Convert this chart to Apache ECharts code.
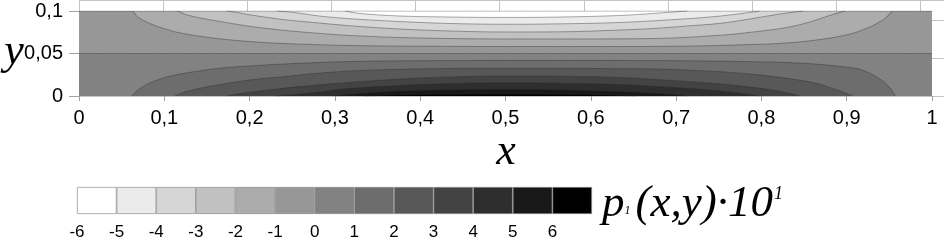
<!DOCTYPE html>
<html><head><meta charset="utf-8">
<script src="https://cdn.jsdelivr.net/npm/echarts@6/dist/echarts.min.js"></script>
<style>html,body{margin:0;padding:0;background:#fff}#c{width:944px;height:241px}</style>
</head><body><div id="c"></div>
<script>
// ---- data ----
const levels = [-6,-5,-4,-3,-2,-1,0,1,2,3,4,5,6];
const bandColors = ['#ffffff','#ebebeb','#d6d6d6','#c1c1c1','#acacac','#979797','#828282','#6d6d6d','#585858','#434343','#2e2e2e','#191919','#000000'];
const xDomain = [0, 1];
const yDomain = [0, 0.1];
const zeroLevelY = 0.05;

// contour lines, lower half (positive levels 1..6): [x, y]
const contourP1 = [[0.062,0],[0.069,0.0071],[0.083,0.0153],[0.103,0.0224],[0.122,0.0265],[0.162,0.0324],[0.200,0.0353],[0.239,0.0376],[0.318,0.0406],[0.400,0.0415],[0.499,0.0418],[0.611,0.0418],[0.705,0.0415],[0.775,0.0406],[0.830,0.0394],[0.869,0.0371],[0.898,0.0341],[0.918,0.0306],[0.937,0.0212],[0.950,0.0106],[0.957,0]];
const contourP2 = [[0.1125,0],[0.124,0.0047],[0.142,0.0091],[0.162,0.0129],[0.200,0.0188],[0.239,0.0227],[0.279,0.0267],[0.318,0.0294],[0.376,0.0314],[0.435,0.0324],[0.499,0.0326],[0.564,0.0326],[0.634,0.0321],[0.673,0.0318],[0.752,0.0286],[0.798,0.0247],[0.830,0.0208],[0.857,0.0165],[0.875,0.0118],[0.892,0.0059],[0.907,0]];
const contourP3 = [[0.1735,0],[0.185,0.0024],[0.200,0.0044],[0.239,0.0091],[0.279,0.0129],[0.318,0.0161],[0.376,0.0200],[0.435,0.0224],[0.499,0.0235],[0.564,0.0232],[0.634,0.0218],[0.713,0.0171],[0.752,0.0141],[0.790,0.0102],[0.816,0.0065],[0.834,0.0029],[0.845,0]];
const contourP4 = [[0.232,0],[0.253,0.0018],[0.279,0.0044],[0.318,0.0091],[0.376,0.0124],[0.435,0.0147],[0.499,0.0156],[0.564,0.0151],[0.634,0.0135],[0.713,0.0091],[0.752,0.0059],[0.781,0.0024],[0.798,0]];
const contourP5 = [[0.300,0],[0.329,0.0029],[0.376,0.0059],[0.435,0.0073],[0.499,0.0079],[0.564,0.0073],[0.634,0.0053],[0.681,0.0029],[0.713,0]];
const contourP6 = [[0.335,0],[0.376,0.0014],[0.435,0.0021],[0.499,0.0024],[0.564,0.0021],[0.617,0.0012],[0.652,0]];

// contour lines, upper half (negative levels -1..-5): [x, y]
const contourN1 = [[0.063,0.1],[0.069,0.0929],[0.083,0.0853],[0.103,0.0782],[0.122,0.0735],[0.162,0.0676],[0.200,0.0641],[0.239,0.0618],[0.318,0.0594],[0.400,0.0586],[0.499,0.0582],[0.611,0.0582],[0.705,0.0586],[0.790,0.0606],[0.830,0.0624],[0.869,0.0665],[0.904,0.0729],[0.927,0.0812],[0.944,0.0906],[0.954,0.1]];
const contourN2 = [[0.115,0.1],[0.127,0.0953],[0.142,0.0918],[0.162,0.0882],[0.200,0.0820],[0.239,0.0774],[0.279,0.0739],[0.318,0.0712],[0.376,0.0688],[0.435,0.0676],[0.499,0.0671],[0.564,0.0671],[0.673,0.0676],[0.752,0.0715],[0.790,0.0753],[0.830,0.0806],[0.857,0.0871],[0.878,0.0941],[0.898,0.1]];
const contourN3 = [[0.1735,0.1],[0.189,0.0976],[0.200,0.0955],[0.239,0.0900],[0.279,0.0861],[0.318,0.0826],[0.376,0.0788],[0.435,0.0765],[0.499,0.0753],[0.564,0.0755],[0.634,0.0776],[0.673,0.0794],[0.713,0.0824],[0.752,0.0855],[0.790,0.0912],[0.822,0.0965],[0.849,0.1]];
const contourN4 = [[0.232,0.1],[0.253,0.0982],[0.279,0.0944],[0.318,0.0909],[0.376,0.0876],[0.435,0.0853],[0.499,0.0844],[0.564,0.0849],[0.634,0.0865],[0.713,0.0909],[0.752,0.0941],[0.781,0.0976],[0.798,0.1]];
const contourN5 = [[0.312,0.1],[0.329,0.0971],[0.376,0.0941],[0.435,0.0929],[0.499,0.0924],[0.564,0.0929],[0.634,0.0947],[0.673,0.0971],[0.713,0.1]];

// ---- build chart ----
const chart = echarts.init(document.getElementById('c'), null, {renderer: 'canvas'});
const SERIF = '"Liberation Serif", "Times New Roman", serif';
const SANS = '"Liberation Sans", Arial, sans-serif';
const contourLine = {color: 'rgba(45,45,45,0.5)', width: 0.8};
const SMOOTH = 0.35;

function fill(data, color) {
  return {
    type: 'line', xAxisIndex: 1, yAxisIndex: 1, data: data,
    smooth: SMOOTH, symbol: 'none', silent: true, clip: true,
    lineStyle: {width: 0, opacity: 0},
    areaStyle: {color: color, opacity: 1, origin: 'start'}
  };
}
function stroke(data) {
  return {
    type: 'line', xAxisIndex: 1, yAxisIndex: 1, data: data,
    smooth: SMOOTH, symbol: 'none', silent: true, clip: true,
    lineStyle: contourLine
  };
}
function topClosed(c) { return [[xDomain[0], yDomain[1]]].concat(c, [[xDomain[1], yDomain[1]]]); }

const series = [];
const topEdge = [[xDomain[0], yDomain[1]], [xDomain[1], yDomain[1]]];
const zeroLine = [[xDomain[0], zeroLevelY], [xDomain[1], zeroLevelY]];
// upper half: paint from most negative band downward
series.push(fill(topEdge, bandColors[0]));
const upper = [contourN5, contourN4, contourN3, contourN2, contourN1];
upper.forEach((c, i) => series.push(fill(topClosed(c), bandColors[i + 1])));
// zero contour / lower half background
series.push(fill(zeroLine, bandColors[6]));
const lower = [contourP1, contourP2, contourP3, contourP4, contourP5, contourP6];
lower.forEach((c, i) => series.push(fill(c, bandColors[7 + i])));
// contour strokes
upper.concat(lower).forEach(c => series.push(stroke(c)));
series.push(stroke(zeroLine));
series.push(stroke(topEdge));

// colour bar
series.push({
  type: 'bar', xAxisIndex: 2, yAxisIndex: 2, silent: true,
  data: levels.map((l, i) => ({value: 1, itemStyle: {color: bandColors[i]}})),
  barWidth: '100%', barCategoryGap: 0,
  itemStyle: {borderColor: '#8c8c8c', borderWidth: 0.7}
});

const comma = v => String(Math.round(v * 1000) / 1000).replace('.', ',');

const option = {
  animation: false,
  backgroundColor: '#fff',
  grid: [
    {left: 79, right: -12, top: -12, bottom: 145},
    {left: 79, top: 11, width: 853, height: 85},
    {left: 77, top: 187, width: 515, height: 33}
  ],
  xAxis: [
    {gridIndex: 0, type: 'value', min: 0, max: 1.02814, interval: 0.1,
     axisLabel: {show: false}, axisTick: {show: false}, axisLine: {show: false},
     splitLine: {show: true, lineStyle: {color: '#c4c4c4', width: 1}}},
    {gridIndex: 1, type: 'value', min: xDomain[0], max: xDomain[1], interval: 0.1, position: 'bottom',
     axisLine: {show: false}, splitLine: {show: false},
     axisTick: {show: true, length: 5, lineStyle: {color: '#a0a0a0'}},
     axisLabel: {formatter: comma, fontFamily: SANS, fontSize: 20, color: '#000', margin: 12}},
    {gridIndex: 2, type: 'category', data: levels.map(String), show: false},
    {gridIndex: 2, type: 'value', min: -6, max: 7, interval: 1, position: 'bottom',
     axisLine: {show: false}, axisTick: {show: false}, splitLine: {show: false},
     axisLabel: {formatter: v => (v === 7 ? '' : String(v)), fontFamily: SANS, fontSize: 17, color: '#000', margin: 10}}
  ],
  yAxis: [
    {gridIndex: 0, type: 'value', min: 0, max: 0.12706, interval: 0.05,
     axisLabel: {show: false}, axisTick: {show: false}, axisLine: {show: false},
     splitLine: {show: true, lineStyle: {color: '#c4c4c4', width: 1}}},
    {gridIndex: 1, type: 'value', min: yDomain[0], max: yDomain[1], interval: 0.05,
     axisLine: {show: false}, splitLine: {show: false},
     axisTick: {show: true, length: 10, lineStyle: {color: '#a0a0a0'}},
     axisLabel: {formatter: comma, fontFamily: SANS, fontSize: 20, color: '#000', margin: 16}},
    {gridIndex: 2, type: 'value', min: 0, max: 1, show: false}
  ],
  graphic: [
    {type: 'text', x: 506, y: 152, style: {text: 'x', font: 'italic 44px ' + SERIF, fill: '#000', align: 'center', verticalAlign: 'middle'}},
    {type: 'text', x: 14, y: 52, style: {text: 'y', font: 'italic 44px ' + SERIF, fill: '#000', align: 'center', verticalAlign: 'middle'}},
    {type: 'text', x: 602, y: 182, style: {
      text: '{a|p}{s|1}{a|(x,y)·10}{t|1}',
      rich: {
        a: {fontFamily: SERIF, fontStyle: 'italic', fontSize: 45, color: '#000'},
        s: {fontFamily: SERIF, fontStyle: 'italic', fontSize: 12, color: '#000', verticalAlign: 'bottom', padding: [0, 5, 10, 0]},
        t: {fontFamily: SERIF, fontStyle: 'italic', fontSize: 18, color: '#000', verticalAlign: 'top', padding: [3, 0, 0, 1]}
      }
    }}
  ],
  series: series
};
chart.setOption(option);
</script>
</body></html>
